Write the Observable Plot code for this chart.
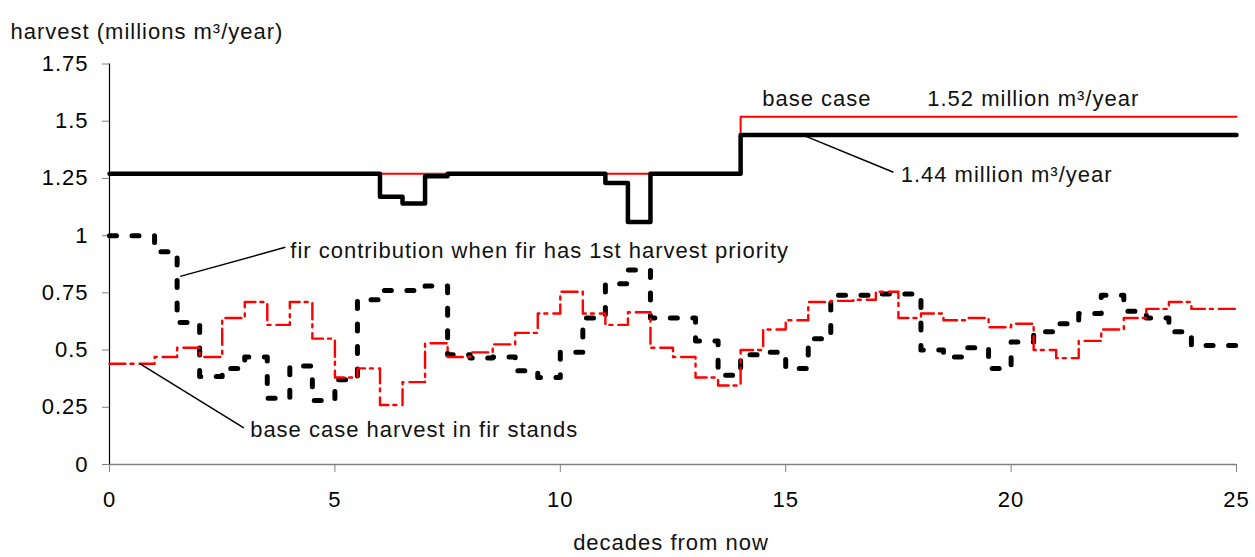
<!DOCTYPE html>
<html>
<head>
<meta charset="utf-8">
<script src="https://cdn.jsdelivr.net/npm/d3@7"></script>
<script src="https://cdn.jsdelivr.net/npm/@observablehq/plot@0.6"></script>
<style>
  body { margin: 0; background: #fff; }
  #chart svg { display: block; }
</style>
</head>
<body>
<div id="chart"></div>
<script>
// Harvest per five-year period (half a decade), decades 0–25, millions m³/year.

// Total harvest, base case
const totalBase = [
  1.27, 1.27, 1.27, 1.27, 1.27, 1.27, 1.27, 1.27, 1.27, 1.27,
  1.27, 1.27, 1.27, 1.27, 1.27, 1.27, 1.27, 1.27, 1.27, 1.27,
  1.27, 1.27, 1.27, 1.27, 1.27, 1.27, 1.27, 1.27, 1.52, 1.52,
  1.52, 1.52, 1.52, 1.52, 1.52, 1.52, 1.52, 1.52, 1.52, 1.52,
  1.52, 1.52, 1.52, 1.52, 1.52, 1.52, 1.52, 1.52, 1.52, 1.52
];

// Total harvest when fir has 1st harvest priority
const totalFirPriority = [
  1.27, 1.27, 1.27, 1.27, 1.27, 1.27, 1.27, 1.27, 1.27, 1.27,
  1.27, 1.27, 1.17, 1.14, 1.26, 1.27, 1.27, 1.27, 1.27, 1.27,
  1.27, 1.27, 1.23, 1.06, 1.27, 1.27, 1.27, 1.27, 1.44, 1.44,
  1.44, 1.44, 1.44, 1.44, 1.44, 1.44, 1.44, 1.44, 1.44, 1.44,
  1.44, 1.44, 1.44, 1.44, 1.44, 1.44, 1.44, 1.44, 1.44, 1.44
];

// Fir contribution when fir has 1st harvest priority
const firPriorityFir = [
  1.00, 1.00, 0.93, 0.62, 0.385, 0.42, 0.47, 0.29, 0.43, 0.28,
  0.37, 0.72, 0.76, 0.76, 0.78, 0.48, 0.465, 0.47, 0.41, 0.38,
  0.49, 0.64, 0.79, 0.85, 0.64, 0.64, 0.54, 0.39, 0.48, 0.49,
  0.42, 0.55, 0.74, 0.74, 0.745, 0.745, 0.50, 0.47, 0.51, 0.42,
  0.535, 0.58, 0.615, 0.66, 0.74, 0.67, 0.64, 0.58, 0.52, 0.52
];

// Base case harvest in fir stands
const baseFir = [
  0.44, 0.44, 0.47, 0.51, 0.47, 0.64, 0.71, 0.61, 0.71, 0.55,
  0.38, 0.42, 0.26, 0.36, 0.53, 0.47, 0.49, 0.525, 0.575, 0.66,
  0.755, 0.66, 0.61, 0.665, 0.51, 0.47, 0.38, 0.345, 0.50, 0.59,
  0.63, 0.71, 0.715, 0.72, 0.755, 0.64, 0.66, 0.63, 0.64, 0.60,
  0.615, 0.50, 0.465, 0.54, 0.59, 0.64, 0.68, 0.71, 0.68, 0.68
];

const xTicks = [0, 5, 10, 15, 20, 25];
const yTicks = [0, 0.25, 0.5, 0.75, 1, 1.25, 1.5, 1.75];

const titleText = "harvest (millions m³/year)";
const xLabelText = "decades from now";

// Text annotations (anchored at their left end) and their leader lines, in data units
const notes = [
  {x: 14.48, y: 1.599, text: "base case"},
  {x: 18.14, y: 1.599, text: "1.52 million m³/year"},
  {x: 17.55, y: 1.264, text: "1.44 million m³/year"},
  {x: 4.01,  y: 0.934, text: "fir contribution when fir has 1st harvest priority"},
  {x: 3.12,  y: 0.150, text: "base case harvest in fir stands"}
];
const leaders = [
  {x1: 15.41, y1: 1.437, x2: 17.39, y2: 1.277},
  {x1: 1.57,  y1: 0.822, x2: 3.90,  y2: 0.949},
  {x1: 0.68,  y1: 0.440, x2: 2.98,  y2: 0.160}
];

// Each value holds for half a decade; close the last step at x = 25.
function steps(values) {
  const pts = values.map((v, i) => ({x: i * 0.5, y: v}));
  pts.push({x: pts.length * 0.5, y: values[values.length - 1]});
  return pts;
}

const chart = Plot.plot({
  width: 1255,
  height: 557,
  marginLeft: 109,
  marginRight: 19,
  marginTop: 63.5,
  marginBottom: 93,
  style: {
    fontFamily: "'Liberation Sans', Arial, sans-serif",
    fontSize: "22px",
    letterSpacing: "1px",
    color: "#000",
    background: "#fff"
  },
  x: {domain: [0, 25]},
  y: {domain: [0, 1.75]},
  marks: [
    Plot.axisX({ticks: xTicks, tickSize: 8, tickPadding: 19, stroke: "#808080", label: null}),
    Plot.axisY({ticks: yTicks, tickSize: 7, tickPadding: 14, stroke: "#808080", label: null,
                tickFormat: d => String(d)}),
    Plot.ruleY([0], {stroke: "#808080", strokeWidth: 1.5}),
    Plot.ruleX([0], {stroke: "#000", strokeWidth: 1.2}),

    // total harvest
    Plot.line(steps(totalBase), {x: "x", y: "y", curve: "step-after", stroke: "#ff0000", strokeWidth: 2}),
    Plot.line(steps(totalFirPriority), {x: "x", y: "y", curve: "step-after", stroke: "#000", strokeWidth: 4.5}),

    // fir stands
    Plot.line(steps(firPriorityFir), {x: "x", y: "y", curve: "step-after", stroke: "#000",
      strokeWidth: 5, strokeDasharray: "7,15.5"}),
    Plot.line(steps(baseFir), {x: "x", y: "y", curve: "step-after", stroke: "#ff0000",
      strokeWidth: 2.4, strokeDasharray: "16,5,3,6"}),

    // leader lines and notes
    Plot.link(leaders, {x1: "x1", y1: "y1", x2: "x2", y2: "y2", stroke: "#000", strokeWidth: 1.5}),
    Plot.text(notes, {x: "x", y: "y", text: "text", textAnchor: "start", fill: "#111"}),

    // titles
    Plot.text([titleText], {frameAnchor: "top-left", textAnchor: "start", dx: -99, dy: -41, fill: "#111"}),
    Plot.text([xLabelText], {frameAnchor: "bottom", dx: -2, dy: 85, fill: "#111"})
  ]
});

document.getElementById("chart").append(chart);
</script>
</body>
</html>
